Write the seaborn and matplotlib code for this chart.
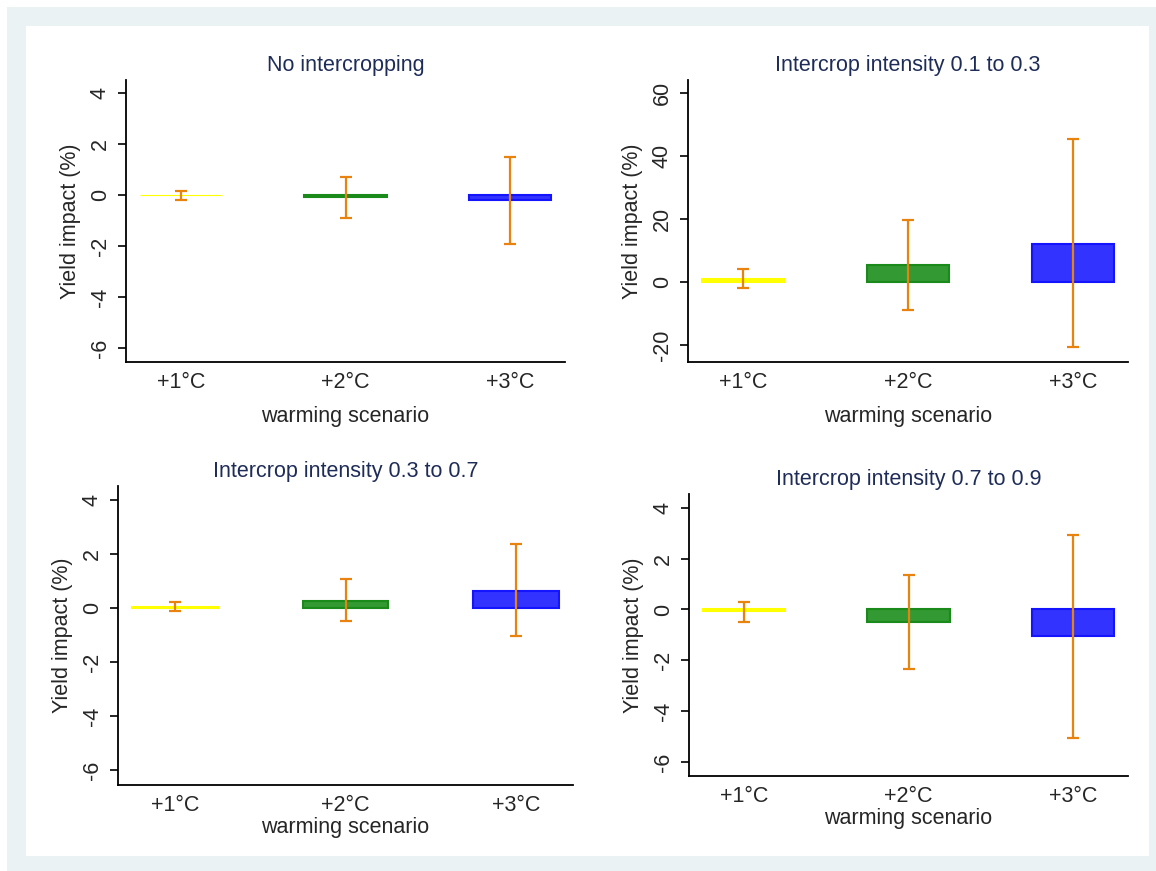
import numpy as np
import pandas as pd
import matplotlib
matplotlib.use("Agg")
import matplotlib.pyplot as plt
from matplotlib.patches import Rectangle
import seaborn as sns

# ---------------- data ----------------
scenarios = ["+1°C", "+2°C", "+3°C"]
panel_titles = ["No intercropping", "Intercrop intensity 0.1 to 0.3",
                "Intercrop intensity 0.3 to 0.7", "Intercrop intensity 0.7 to 0.9"]

p1_mean = [0.0, -0.08, -0.2]
p1_low = [-0.2, -0.9, -1.93]
p1_high = [0.16, 0.68, 1.5]

p2_mean = [1.0, 5.3, 12.2]
p2_low = [-1.9, -8.9, -20.7]
p2_high = [4.1, 19.8, 45.3]

p3_mean = [0.04, 0.27, 0.64]
p3_low = [-0.11, -0.48, -1.04]
p3_high = [0.22, 1.08, 2.35]

p4_mean = [-0.08, -0.48, -1.05]
p4_low = [-0.51, -2.33, -5.06]
p4_high = [0.3, 1.35, 2.94]

means = [p1_mean, p2_mean, p3_mean, p4_mean]
lows = [p1_low, p2_low, p3_low, p4_low]
highs = [p1_high, p2_high, p3_high, p4_high]

small_ticks = [-6, -4, -2, 0, 2, 4]
large_ticks = [-20, 0, 20, 40, 60]

# ---------------- style ----------------
sns.set_style("white")
plt.rcParams["font.family"] = ["Liberation Sans", "DejaVu Sans"]
plt.rcParams["axes.unicode_minus"] = False
FS = 15.5

fill_colors = ["#ffff00", "#339933", "#3333ff"]
edge_colors = ["#ffff00", "#1a8a1a", "#1414ff"]
err_color = "#e8830f"
title_color = "#1e2c58"

W, H = 1156, 871
fig = plt.figure(figsize=(W / 100, H / 100), dpi=100)
fig.patch.set_facecolor("white")
fig.patches.append(Rectangle((7 / W, 0), (W - 7) / W, (H - 7) / H,
                             transform=fig.transFigure, facecolor="#eaf2f3",
                             edgecolor="none", zorder=-10))
fig.patches.append(Rectangle((26 / W, 15 / H), (1149 - 26) / W, (856 - 26) / H,
                             transform=fig.transFigure, facecolor="white",
                             edgecolor="none", zorder=-9))

# axes boxes in pixels: left, right, top, bottom
boxes = [(126, 565, 80, 362), (688, 1128, 80, 362),
         (118, 573, 486, 785), (689, 1128, 494, 776)]
ylims = [(-6.55, 4.5), (-25.4, 64.1), (-6.54, 4.5), (-6.55, 4.54)]
yticks = [small_ticks, large_ticks, small_ticks, small_ticks]
xlabelpads = [9.5, 9.5, 1, 1]
bar_lw = [[0.8, 1.5, 1.5], [1.5, 1.5, 1.5], [1.5, 1.5, 1.5], [1.5, 1.5, 1.5]]

for i in range(4):
    l, r, t, b = boxes[i]
    ax = fig.add_axes([l / W, 1 - b / H, (r - l) / W, (b - t) / H])
    ax.set_facecolor("none")
    df = pd.DataFrame({"scenario": scenarios, "impact": means[i]})
    sns.barplot(data=df, x="scenario", y="impact", hue="scenario",
                palette=fill_colors, width=0.5, legend=False, ax=ax,
                linewidth=1.5, saturation=1)
    for p, ec, lw in zip(ax.patches, edge_colors, bar_lw[i]):
        p.set_edgecolor(ec)
        p.set_linewidth(lw)
    m = np.array(means[i])
    lo = np.array(lows[i])
    hi = np.array(highs[i])
    ax.errorbar(x=np.arange(len(scenarios)), y=m, yerr=[m - lo, hi - m],
                fmt="none", ecolor=err_color, elinewidth=1.6, capsize=4,
                capthick=1.6, zorder=5)
    ax.set_xlim(-0.335, 2.335)
    ax.set_ylim(*ylims[i])
    ax.set_yticks(yticks[i])
    ax.set_yticklabels([str(v) for v in yticks[i]], rotation=90, va="center")
    ax.tick_params(axis="y", length=6, width=1.2, color="black", pad=5,
                   labelsize=FS, left=True)
    ax.tick_params(axis="x", length=0, pad=7, labelsize=FS)
    for s in ["top", "right"]:
        ax.spines[s].set_visible(False)
    for s in ["left", "bottom"]:
        ax.spines[s].set_color("black")
        ax.spines[s].set_linewidth(1.3)
    ax.set_xlabel("warming scenario", fontsize=FS, labelpad=xlabelpads[i])
    ax.set_ylabel("Yield impact (%)", fontsize=FS, labelpad=6)
    ax.set_title(panel_titles[i], fontsize=FS, color=title_color, pad=6.7)

fig.savefig("out.png", dpi=100)
